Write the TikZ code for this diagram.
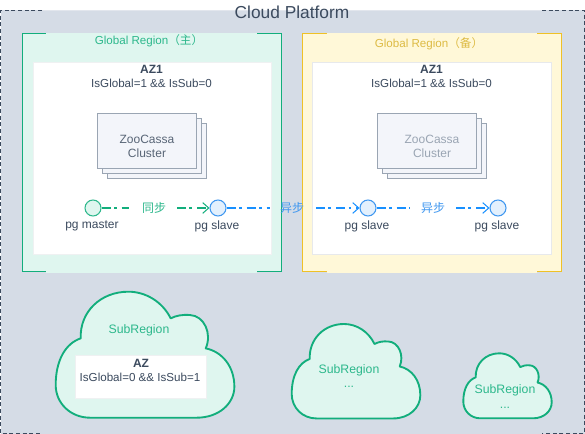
\documentclass[tikz,border=0pt]{standalone}
\usepackage{fontspec}
\setmainfont{Liberation Sans}
\newfontfamily\cjk{Noto Sans CJK SC}
\usetikzlibrary{arrows.meta}
\definecolor{bgc}{HTML}{D5DCE6}
\definecolor{ink}{HTML}{3B4A5E}
\definecolor{grn}{HTML}{12AE7C}
\definecolor{grnl}{HTML}{DFF6EF}
\definecolor{grnt}{HTML}{2DB88C}
\definecolor{yel}{HTML}{EFC126}
\definecolor{yell}{HTML}{FFF8D8}
\definecolor{yelt}{HTML}{DDBB44}
\definecolor{blu}{HTML}{1890FF}
\definecolor{blul}{HTML}{E3F0FD}
\definecolor{blut}{HTML}{3F97F0}
\definecolor{stk}{HTML}{9AA5B3}
\definecolor{stf}{HTML}{F3F5FA}
\newcommand{\cloudshape}{(103,378) -- (423,378)
 .. controls (490,378) and (536,335) .. (536,285)
 .. controls (536,225) and (500,180) .. (450,170)
 .. controls (470,125) and (445,72) .. (403,70)
 .. controls (380,68) and (360,72) .. (345,80)
 .. controls (320,30) and (270,0) .. (218,0)
 .. controls (135,0) and (72,60) .. (75,140)
 .. controls (30,155) and (0,205) .. (0,280)
 .. controls (0,335) and (45,378) .. (103,378) -- cycle}
\tikzset{
 x=0.75pt,y=-0.75pt,
 every node/.style={font=\fontsize{8.7}{10.5}\selectfont,text=ink,inner sep=0pt,align=center},
 boldtxt/.style={font=\fontsize{9}{10.5}\selectfont\bfseries},
 cjktxt/.style={font=\cjk\fontsize{9}{10.5}\selectfont},
 subtxt/.style={font=\fontsize{9.2}{10.5}\selectfont,text=grnt},
 whitebox/.style={fill=white,draw=#1,line width=0.6pt},
 stacksheet/.style={fill=stf,draw=stk,line width=0.7pt},
 cloudstyle/.style={fill=grnl,draw=grn,line width=1.4pt,line join=round},
 pgnode/.style={circle,minimum size=12pt,line width=0.8pt,draw=#1},
 syncline/.style={line width=0.9pt,dash pattern=on 6.75pt off 2.6pt on 1.9pt off 3.8pt},
 tipline/.style={-{Straight Barb[length=4.5pt,width=8pt,line width=0.75pt]}},
}
\begin{document}
\begin{tikzpicture}
\useasboundingbox (0,0) rectangle (585,434);
% platform background
\fill[bgc] (0.5,10.5) rectangle (584.5,433.5);
\draw[line width=0.75pt,color=bgc!70!white] (42,10.5) -- (542,10.5);
\draw[ink,line width=0.6pt,densely dashed] (42,10.5) -- (0.5,10.5) -- (0.5,433.5) -- (42,433.5);
\draw[ink,line width=0.6pt,densely dashed] (542,10.5) -- (584.5,10.5) -- (584.5,433.5) -- (542,433.5);
\node[font=\fontsize{13}{15}\selectfont] (title) at (292,12) {Cloud Platform};
% global regions
\draw[fill=grnl,draw=grn,line width=0.75pt] (22.5,33.5) rectangle (281.5,272);
\draw[grnl,line width=1pt] (46,33.5) -- (257,33.5) (46,272) -- (257,272);
\draw[fill=yell,draw=yel,line width=0.75pt] (302.5,33.5) rectangle (561.5,272);
\draw[yell,line width=1pt] (326.5,33.5) -- (537,33.5) (326.5,272) -- (537,272);
\node[text=grnt] (gr1) at (149,41) {Global Region{\cjk （主）}};
\node[text=yelt] (gr2) at (429,44) {Global Region{\cjk （备）}};
\draw[whitebox=white!92!ink] (33,62) rectangle (271,254);
\draw[whitebox=white!88!ink] (312.5,62) rectangle (551.5,254);
\node[boldtxt] (az1) at (151.5,69) {AZ1};
\node (flag1) at (151.5,83) {IsGlobal=1 \&\& IsSub=0};
\node[boldtxt] (az2) at (431.5,69) {AZ1};
\node (flag2) at (431.5,83) {IsGlobal=1 \&\& IsSub=0};
% cluster stacks
\draw[stacksheet] (107.5,123.5) rectangle (206.5,178);
\draw[stacksheet] (102.5,118.5) rectangle (201.5,173);
\draw[stacksheet] (97.5,113.5) rectangle (196.5,168);
\node[text=ink!85!white,font=\fontsize{9}{10.5}\selectfont] (zc1) at (147,146) {ZooCassa\\Cluster};
\draw[stacksheet] (387.5,123.5) rectangle (486.5,178);
\draw[stacksheet] (382.5,118.5) rectangle (481.5,173);
\draw[stacksheet] (377.5,113.5) rectangle (476.5,168);
\node[text=stk,font=\fontsize{9}{10.5}\selectfont] (zc2) at (432,146) {ZooCassa\\Cluster};
% pg nodes
\node[pgnode=grnt,fill=grnl] (m) at (93,208) {};
\node[pgnode=blut,fill=blul] (s1) at (218,208) {};
\node[pgnode=blut,fill=blul] (s2) at (368,208) {};
\node[pgnode=blut,fill=blul] (s3) at (498,208) {};
\node[font=\fontsize{9}{10.5}\selectfont] (lm) at (92,226) {pg master};
\node[font=\fontsize{9}{10.5}\selectfont] (ls1) at (217,226) {pg slave};
\node[font=\fontsize{9}{10.5}\selectfont] (ls2) at (367,226) {pg slave};
\node[font=\fontsize{9}{10.5}\selectfont] (ls3) at (497,226) {pg slave};
% connectors with a gap at their labels
\coordinate (g1a) at (129,208); \coordinate (g1b) at (177,208);
\coordinate (g2a) at (270,208); \coordinate (g2b) at (316,208);
\coordinate (g3a) at (410,208); \coordinate (g3b) at (456,208);
\draw[draw=grn,syncline] (m) -- (g1a);
\draw[draw=grn,syncline,tipline] (g1b) -- (s1);
\draw[draw=blu,syncline] (s1) -- (g2a);
\draw[draw=blu,syncline,tipline] (g2b) -- (s2);
\draw[draw=blu,syncline] (s2) -- (g3a);
\draw[draw=blu,syncline,tipline] (g3b) -- (s3);
\node[text=grnt,cjktxt] (sync) at (154,208) {同步};
\node[text=blut,cjktxt] (async1) at (292,208) {异步};
\node[text=blut,cjktxt] (async2) at (433,208) {异步};
% clouds
\begin{scope}[shift={(55.7,291.7)},x=0.25pt,y=-0.25pt]
\draw[cloudstyle] \cloudshape;
\end{scope}
\begin{scope}[shift={(291.7,324)},x=0.18pt,y=-0.1874pt]
\draw[cloudstyle] \cloudshape;
\end{scope}
\begin{scope}[shift={(463.3,353.3)},x=0.1237pt,y=-0.129pt]
\draw[cloudstyle] \cloudshape;
\end{scope}
\node[subtxt] (sr1) at (139,330) {SubRegion};
\draw[whitebox=white!92!ink] (75,355.5) rectangle (206,398);
\node[boldtxt] (az3) at (141,363) {AZ};
\node (flag3) at (140,377) {IsGlobal=0 \&\& IsSub=1};
\node[subtxt] (sr2) at (349,370) {SubRegion};
\node[subtxt] (d2) at (349,387) {...};
\node[subtxt] (sr3) at (505,390) {SubRegion};
\node[subtxt] (d3) at (505,408) {...};
\end{tikzpicture}
\end{document}
